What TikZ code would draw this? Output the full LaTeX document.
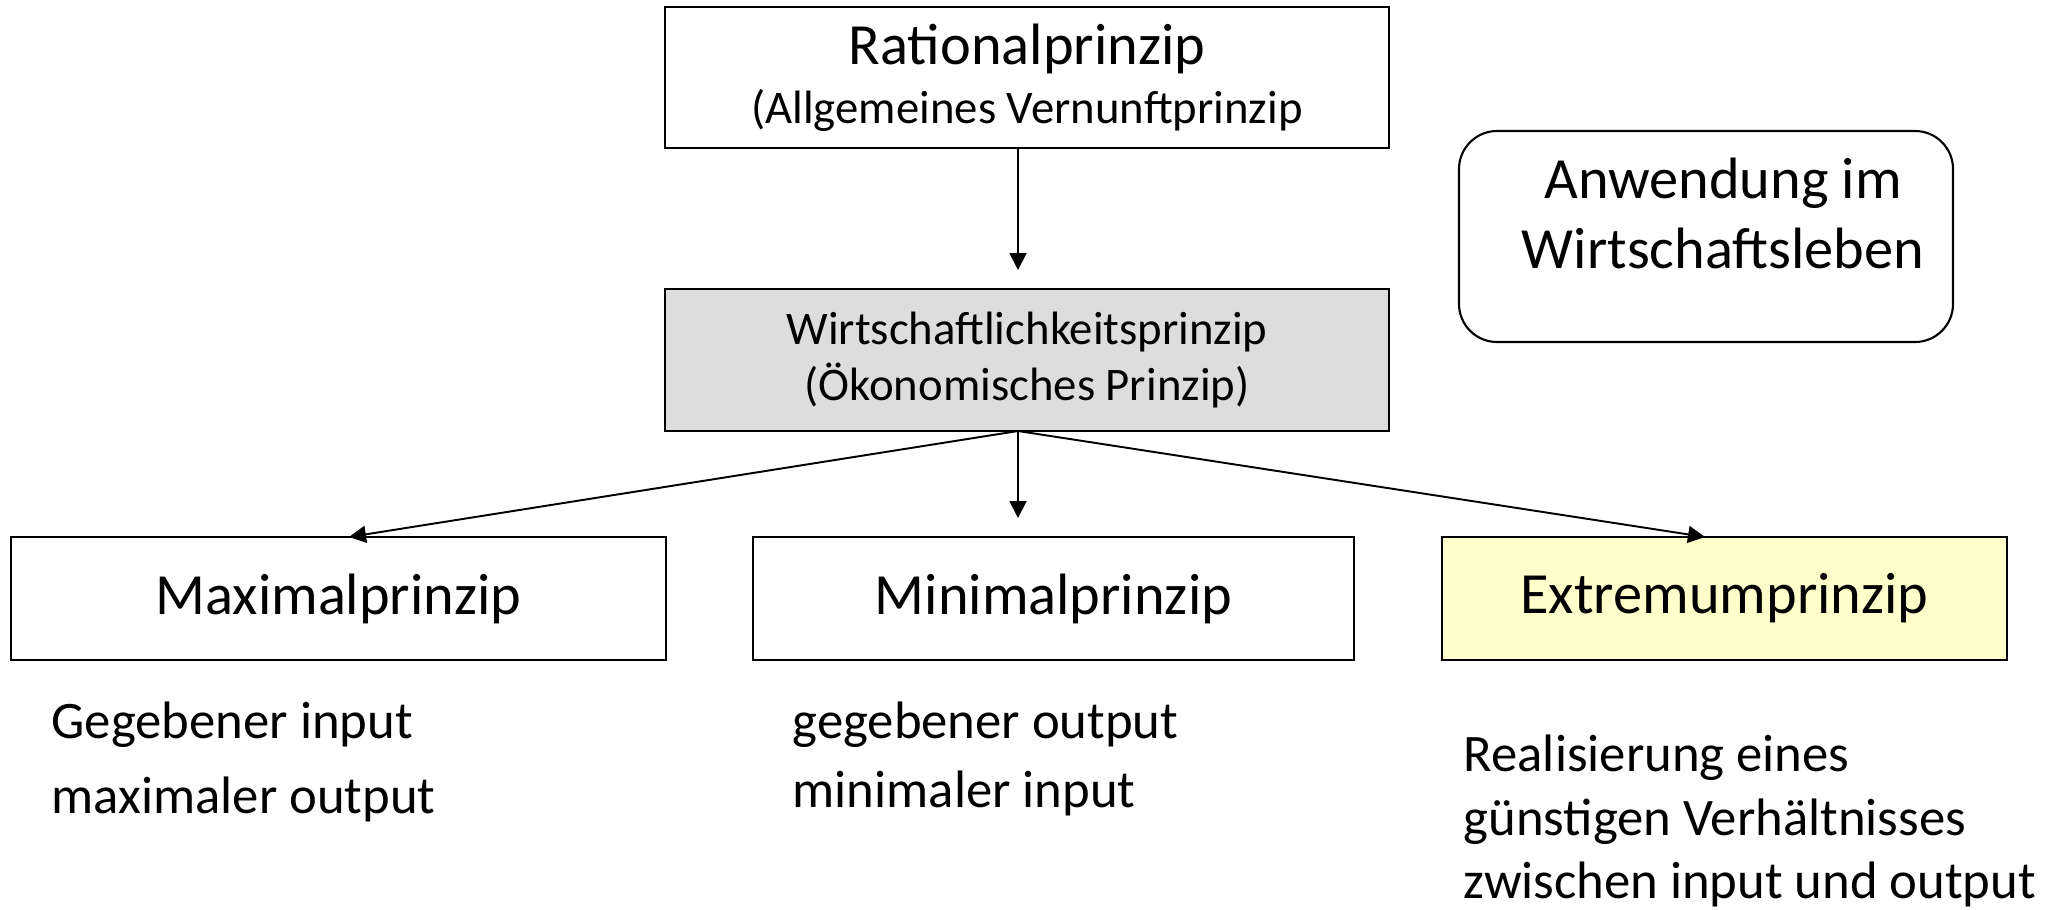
\documentclass[tikz,border=0pt]{standalone}
\usepackage{fontspec}
\setmainfont{Carlito}
\usetikzlibrary{arrows.meta}
\definecolor{shade}{RGB}{221,221,221}
\definecolor{cream}{RGB}{255,255,204}
\tikzset{
  >={Triangle[length=1.7mm,width=1.7mm]},
  box/.style={draw=black,fill=#1,line width=0.6pt,align=center,inner sep=0pt},
  box/.default=white,
  big/.style={font=\fontsize{16.6}{20}\selectfont},
  flow/.style={->,line width=0.55pt},
  tag/.style={align=left,anchor=west,inner sep=0pt,font=\fontsize{15}{#1}\selectfont},
  tag/.default=18pt,
}

\begin{document}
\begin{tikzpicture}
  \useasboundingbox (0,0) rectangle (20.67,-9.09);
  % top of the hierarchy
  \node[box,minimum width=7.24cm,minimum height=1.41cm,font=\fontsize{13.3}{16}\selectfont] (rational) at (10.27,-0.775)
    {{\fontsize{16.6}{20}\selectfont Rationalprinzip}\\[0.9pt](Allgemeines Vernunftprinzip};
  \node[box=shade,minimum width=7.24cm,minimum height=1.42cm,font=\fontsize{13.3}{16.1}\selectfont] (wirt) at (10.27,-3.60)
    {Wirtschaftlichkeitsprinzip\\(Ökonomisches Prinzip)};
  \node[box,rounded corners=0.38cm,minimum width=4.94cm,minimum height=2.11cm] (anw) at (17.06,-2.365) {};
  \node[align=center,inner sep=0pt,font=\fontsize{16.6}{19.9}\selectfont] (anwtext) at (17.23,-2.13)
    {Anwendung im\\Wirtschaftsleben};
  % the three principles
  \node[box,big,minimum width=6.55cm,minimum height=1.23cm] (maxi) at (3.385,-5.985) {Maximalprinzip};
  \node[box,big,minimum width=6.01cm,minimum height=1.23cm] (mini) at (10.535,-5.985) {Minimalprinzip};
  \node[box=cream,big,minimum width=5.65cm,minimum height=1.23cm] (extr) at (17.245,-5.985) {Extremumprinzip};
  % connectors
  \coordinate (r1) at (10.18,-1.48);
  \coordinate (r2) at (10.18,-2.70);
  \coordinate (split) at (10.18,-4.31);
  \coordinate (tipmax) at (3.49,-5.37);
  \coordinate (tipmin) at (10.18,-5.18);
  \coordinate (tipext) at (17.05,-5.37);
  \draw[flow] (r1) -- (r2);
  \draw[flow] (split) -- (tipmax);
  \draw[flow] (split) -- (tipmin);
  \draw[flow] (split) -- (tipext);
  % notes below
  \node[tag=21.3pt] (maxnote) at (0.51,-7.615) {Gegebener input\\maximaler output};
  \node[tag=19.8pt] (minnote) at (7.92,-7.59) {gegebener output\\minimaler input};
  \node[tag=18pt] (extnote) at (14.63,-8.21) {Realisierung eines\\günstigen Verhältnisses\\zwischen input und output};
\end{tikzpicture}
\end{document}
